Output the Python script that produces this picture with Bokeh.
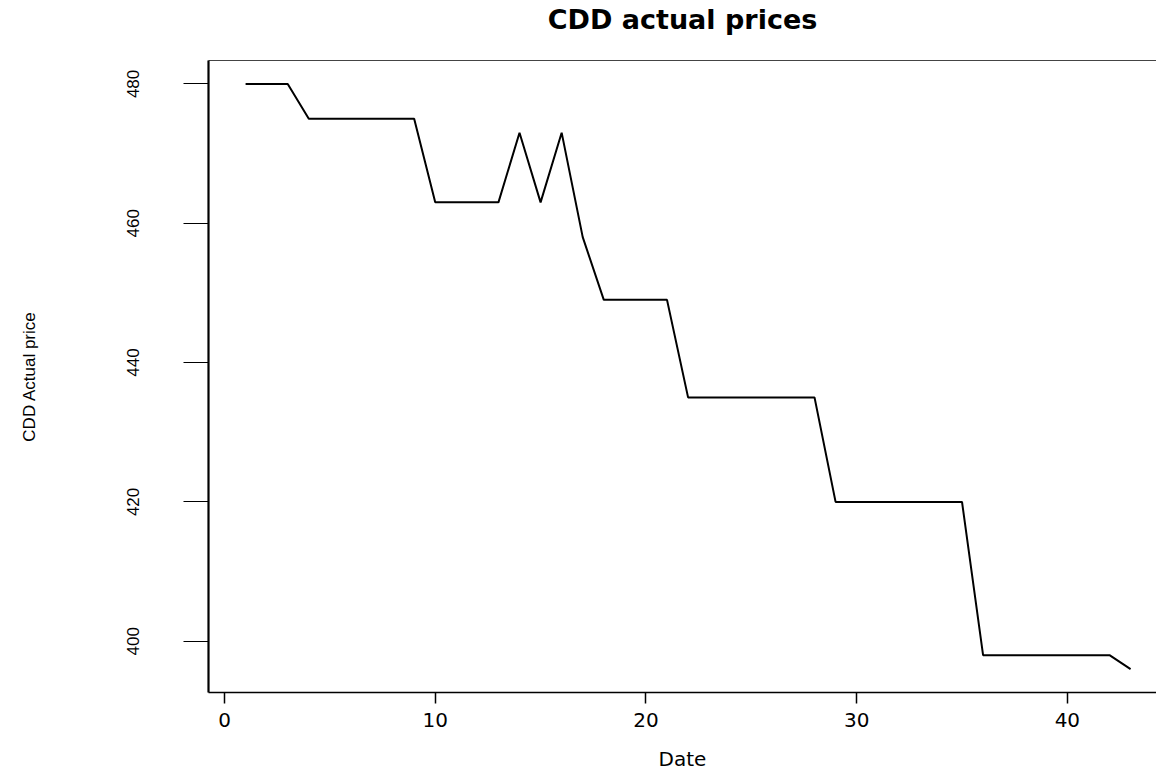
from bokeh.plotting import figure
from bokeh.models import LinearAxis, FixedTicker, Range1d
from bokeh.embed import file_html
from bokeh.resources import INLINE

# Data
dates = list(range(1, 44))
prices = [480, 480, 480, 475, 475, 475, 475, 475, 475,
          463, 463, 463, 463, 473, 463, 473, 458,
          449, 449, 449, 449,
          435, 435, 435, 435, 435, 435, 435,
          420, 420, 420, 420, 420, 420, 420,
          398, 398, 398, 398, 398, 398, 398, 396]
x_ticks = [0, 10, 20, 30, 40]
y_ticks = [400, 420, 440, 460, 480]
title_text = "CDD actual prices"

x0, x1 = -0.76, 44.23
y0, y1 = 392.64, 483.36

p = figure(width=1156, height=774, output_backend="svg", toolbar_location=None,
           x_range=Range1d(x0, x1), y_range=Range1d(y0, y1),
           x_axis_type=None, y_axis_type=None,
           min_border_left=208, min_border_right=0, min_border_top=60,
           min_border_bottom=82)
p.grid.visible = False
p.outline_line_color = None
p.background_fill_color = "white"
p.border_fill_color = "white"

xaxis = LinearAxis(ticker=FixedTicker(ticks=x_ticks))
xaxis.axis_label = "Date"
xaxis.axis_label_text_font = "DejaVu Sans"
xaxis.axis_label_text_font_size = "20px"
xaxis.axis_label_text_font_style = "normal"
xaxis.axis_label_text_color = "black"
xaxis.axis_label_standoff = 17
xaxis.major_label_text_font = "DejaVu Sans"
xaxis.major_label_text_font_size = "20px"
xaxis.major_label_text_color = "black"
xaxis.major_label_standoff = 9
xaxis.major_tick_out = 11
xaxis.major_tick_in = 0
xaxis.major_tick_line_width = 1.5
xaxis.minor_tick_out = 0
xaxis.minor_tick_in = 0
xaxis.axis_line_width = 1.5
xaxis.axis_line_color = "black"
xaxis.major_tick_line_color = "black"
p.add_layout(xaxis, "below")

yaxis = LinearAxis(ticker=FixedTicker(ticks=y_ticks))
yaxis.axis_label = "CDD Actual price"
yaxis.axis_label_text_font = "Liberation Sans"
yaxis.axis_label_text_font_size = "17px"
yaxis.axis_label_text_font_style = "normal"
yaxis.axis_label_text_color = "black"
yaxis.axis_label_standoff = 86
yaxis.major_label_text_font = "Liberation Sans"
yaxis.major_label_text_font_size = "17px"
yaxis.major_label_text_color = "black"
yaxis.major_label_orientation = "vertical"
yaxis.major_label_standoff = 44
yaxis.major_tick_out = 25
yaxis.major_tick_in = 0
yaxis.major_tick_line_width = 1
yaxis.minor_tick_out = 0
yaxis.minor_tick_in = 0
yaxis.axis_line_width = 2.2
yaxis.axis_line_color = "black"
yaxis.major_tick_line_color = "black"
p.add_layout(yaxis, "left")

# Top box edge; its axis label carries the chart title
top = LinearAxis(ticker=FixedTicker(ticks=[]))
top.major_label_text_font_size = "0px"
top.major_label_standoff = 0
top.major_tick_out = 0
top.major_tick_in = 0
top.minor_tick_out = 0
top.minor_tick_in = 0
top.axis_line_width = 1.2
top.axis_line_color = "#444444"
top.axis_label = title_text
top.axis_label_text_font = "DejaVu Sans"
top.axis_label_text_font_size = "27px"
top.axis_label_text_font_style = "bold"
top.axis_label_text_color = "black"
top.axis_label_standoff = 26
p.add_layout(top, "above")

p.line(dates, prices, line_color="black", line_width=2)

open("out.html", "w").write(file_html(p, INLINE))
